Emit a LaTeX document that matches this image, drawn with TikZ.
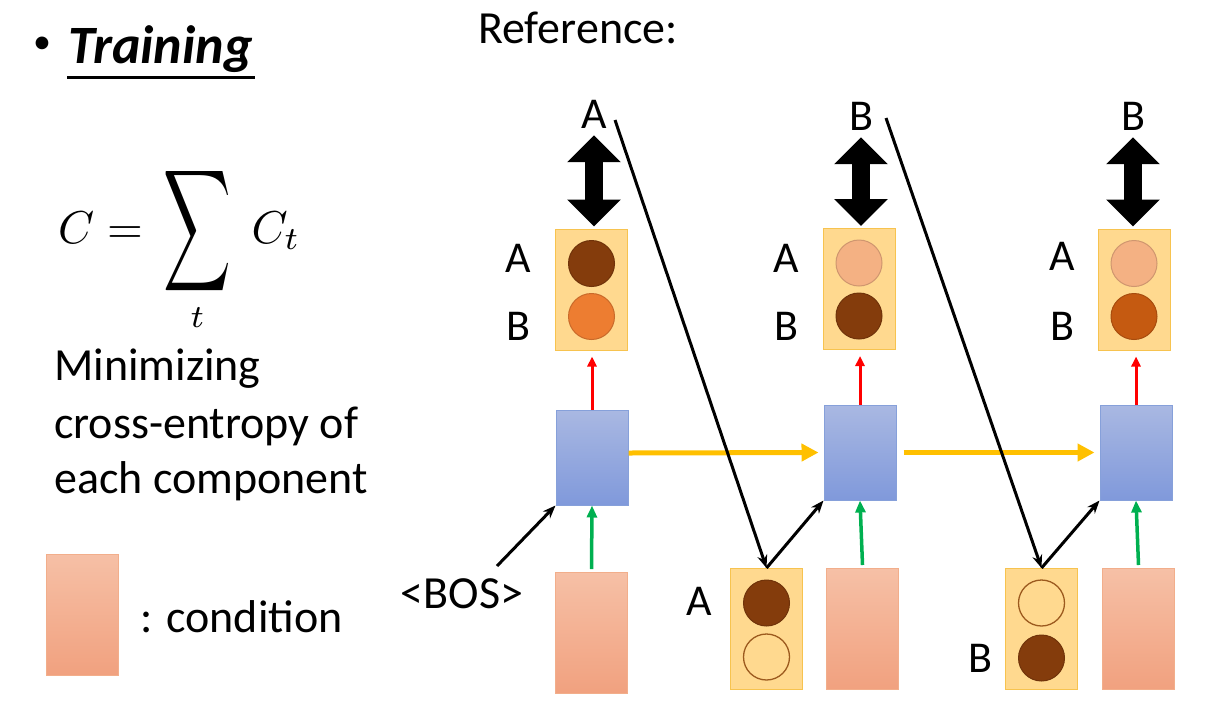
\documentclass[tikz,border=0pt]{standalone}
\usepackage{amsmath}
\usepackage{graphicx}
\usepackage{fontspec}
\setmainfont{Carlito}
\usetikzlibrary{arrows.meta,positioning}
\definecolor{boxfill}{HTML}{FFD98F}
\definecolor{boxedge}{HTML}{F7C34F}
\definecolor{rnntop}{HTML}{A9B8E2}
\definecolor{rnnbot}{HTML}{8099DB}
\definecolor{rnnedge}{HTML}{86A0DA}
\definecolor{condtop}{HTML}{F6C0A6}
\definecolor{condbot}{HTML}{F1A17F}
\definecolor{condedge}{HTML}{F2AE8B}
\definecolor{dkbrown}{HTML}{843C0C}
\definecolor{orng}{HTML}{ED7D31}
\definecolor{salmon}{HTML}{F4B183}
\definecolor{rust}{HTML}{C55A11}
\definecolor{ringedge}{HTML}{9C5A1E}
\definecolor{hidyel}{HTML}{FFC000}
\definecolor{upred}{HTML}{FF0000}
\definecolor{cingreen}{HTML}{00B050}

\begin{document}
\begin{tikzpicture}[
    x=1pt,y=-1pt,
    txt/.style={font=\fontsize{46}{56}\selectfont,inner sep=0pt,anchor=base west},
    lbl/.style={font=\fontsize{44}{50}\selectfont,inner sep=0pt,anchor=base},
    obox/.style={draw=boxedge,fill=boxfill,line width=1pt,minimum width=72pt,minimum height=121pt,inner sep=0pt},
    rnn/.style={draw=rnnedge,top color=rnntop,bottom color=rnnbot,line width=1pt,minimum width=72pt,minimum height=95pt,inner sep=0pt},
    cond/.style={draw=condedge,top color=condtop,bottom color=condbot,line width=1pt,minimum width=72pt,minimum height=121pt,inner sep=0pt},
    ball/.style={circle,draw=#1!85!black,fill=#1,line width=1pt,minimum size=46pt,inner sep=0pt},
    ring/.style={circle,draw=ringedge,fill=boxfill,line width=1.3pt,minimum size=46pt,inner sep=0pt},
    gt/.style={{Triangle[width=52pt,length=27pt]}-{Triangle[width=52pt,length=27pt]},line width=18pt,shorten <=7pt,shorten >=2pt},
    fb/.style={-{Stealth[length=13pt,width=10pt]},line width=3pt},
    hid/.style={-{Triangle[length=17pt,width=17pt]},line width=5pt,hidyel},
    upr/.style={-{Triangle[length=10pt,width=9pt]},line width=3pt,upred,shorten >=6pt},
    cin/.style={-{Triangle[length=12pt,width=10pt]},line width=3.5pt,cingreen}
]
\useasboundingbox (0,0) rectangle (1209,710);

\node[inner sep=0pt,font=\fontsize{36}{40}\selectfont] (blt) at (42,45) {•};
\node[inner sep=0pt,anchor=base west,font=\fontsize{54}{60}\selectfont\bfseries\itshape] (trn) at (68,63) {Training};
\draw[line width=3pt] (67,77) -- (255,77);
\node[inner sep=0pt,anchor=base west] (frm) at (58,243)
    {\scalebox{4.6}{$\displaystyle C=\,\mathop{\vcenter{\hbox{\scalebox{1.02}[1.85]{$\displaystyle\sum$}}}}\limits_{t}\; C_t$}};
\node[txt] (mn1) at (54,380) {Minimizing};
\node[txt] (mn2) at (54,438) {cross-entropy of};
\node[txt] (mn3) at (54,493) {each component};
\node[cond] (leg) at (82.5,614.5) {};
\node[txt] (legt) at (140,632) {: condition};
\node[txt] (ref) at (478,43) {Reference:};

\node[obox] (out1) at (591.5,289.5) {};
\node[obox] (out2) at (859,289) {};
\node[obox] (out3) at (1134,289.5) {};
\node[ball=dkbrown,yshift=26pt] (o1a) at (out1) {};
\node[ball=orng,yshift=-27pt] (o1b) at (out1) {};
\node[ball=salmon,yshift=26pt] (o2a) at (out2) {};
\node[ball=dkbrown,yshift=-27pt] (o2b) at (out2) {};
\node[ball=salmon,yshift=26pt] (o3a) at (out3) {};
\node[ball=rust,yshift=-27pt] (o3b) at (out3) {};

\node[rnn] (rnn1) at (592,457.5) {};
\node[rnn] (rnn2) at (860,452.5) {};
\node[rnn] (rnn3) at (1136,452.5) {};

\node[cond] (cond1) at (591.5,633) {};
\node[cond] (cond2) at (862.5,629) {};
\node[cond] (cond3) at (1138.5,629) {};

\node[obox] (in2) at (766.5,629) {};
\node[obox] (in3) at (1041.5,629) {};
\node[ball=dkbrown,yshift=26pt] (i2a) at (in2) {};
\node[ring,yshift=-28pt] (i2b) at (in2) {};
\node[ring,yshift=26pt] (i3a) at (in3) {};
\node[ball=dkbrown,yshift=-29pt] (i3b) at (in3) {};

\node[lbl] (tA1) at (594,128) {A};
\node[lbl] (tB2) at (861,130) {B};
\node[lbl] (tB3) at (1133,130) {B};
\node[lbl] (sA1) at (518,272) {A};
\node[lbl] (sB1) at (518,340) {B};
\node[lbl] (sA2) at (786,272) {A};
\node[lbl] (sB2) at (786,340) {B};
\node[lbl] (sA3) at (1062,270) {A};
\node[lbl] (sB3) at (1062,340) {B};
\node[lbl] (iA2) at (699,615) {A};
\node[lbl] (iB3) at (980,672) {B};
\node[lbl,font=\fontsize{46}{56}\selectfont] (bos) at (462,608) {<BOS>};

\coordinate (b0) at (497,566);
\coordinate (f1) at (615,120);
\coordinate (f2) at (886,118);

\draw[gt] (tA1) -- (tA1 |- out1.north);
\draw[gt] (tB2) -- (tB2 |- out2.north);
\draw[gt] (tB3) -- (tB3 |- out3.north);

\draw[upr] (rnn1.north) -- (out1.south -| rnn1.north);
\draw[upr] (rnn2.north) -- (out2.south -| rnn2.north);
\draw[upr] (rnn3.north) -- (out3.south -| rnn3.north);

\draw[cin] (cond1.north) ++(0,-3) -- (rnn1.south);
\draw[cin] (cond2.north) ++(0,-3) -- (rnn2.south);
\draw[cin] (cond3.north) ++(0,-3) -- (rnn3.south);

\draw[hid,shorten >=5pt] (rnn1.east |- 0,453) -- (rnn2.west);
\draw[hid,shorten <=7pt,shorten >=5pt] (rnn2.east) -- (rnn3.west);

\draw[fb] (b0) -- (rnn1.south west);
\draw[fb] (f1) -- (in2.north);
\draw[fb] (in2.north) -- (rnn2.south west);
\draw[fb] (f2) -- (in3.north);
\draw[fb] (in3.north) -- (rnn3.south west);

\end{tikzpicture}
\end{document}
